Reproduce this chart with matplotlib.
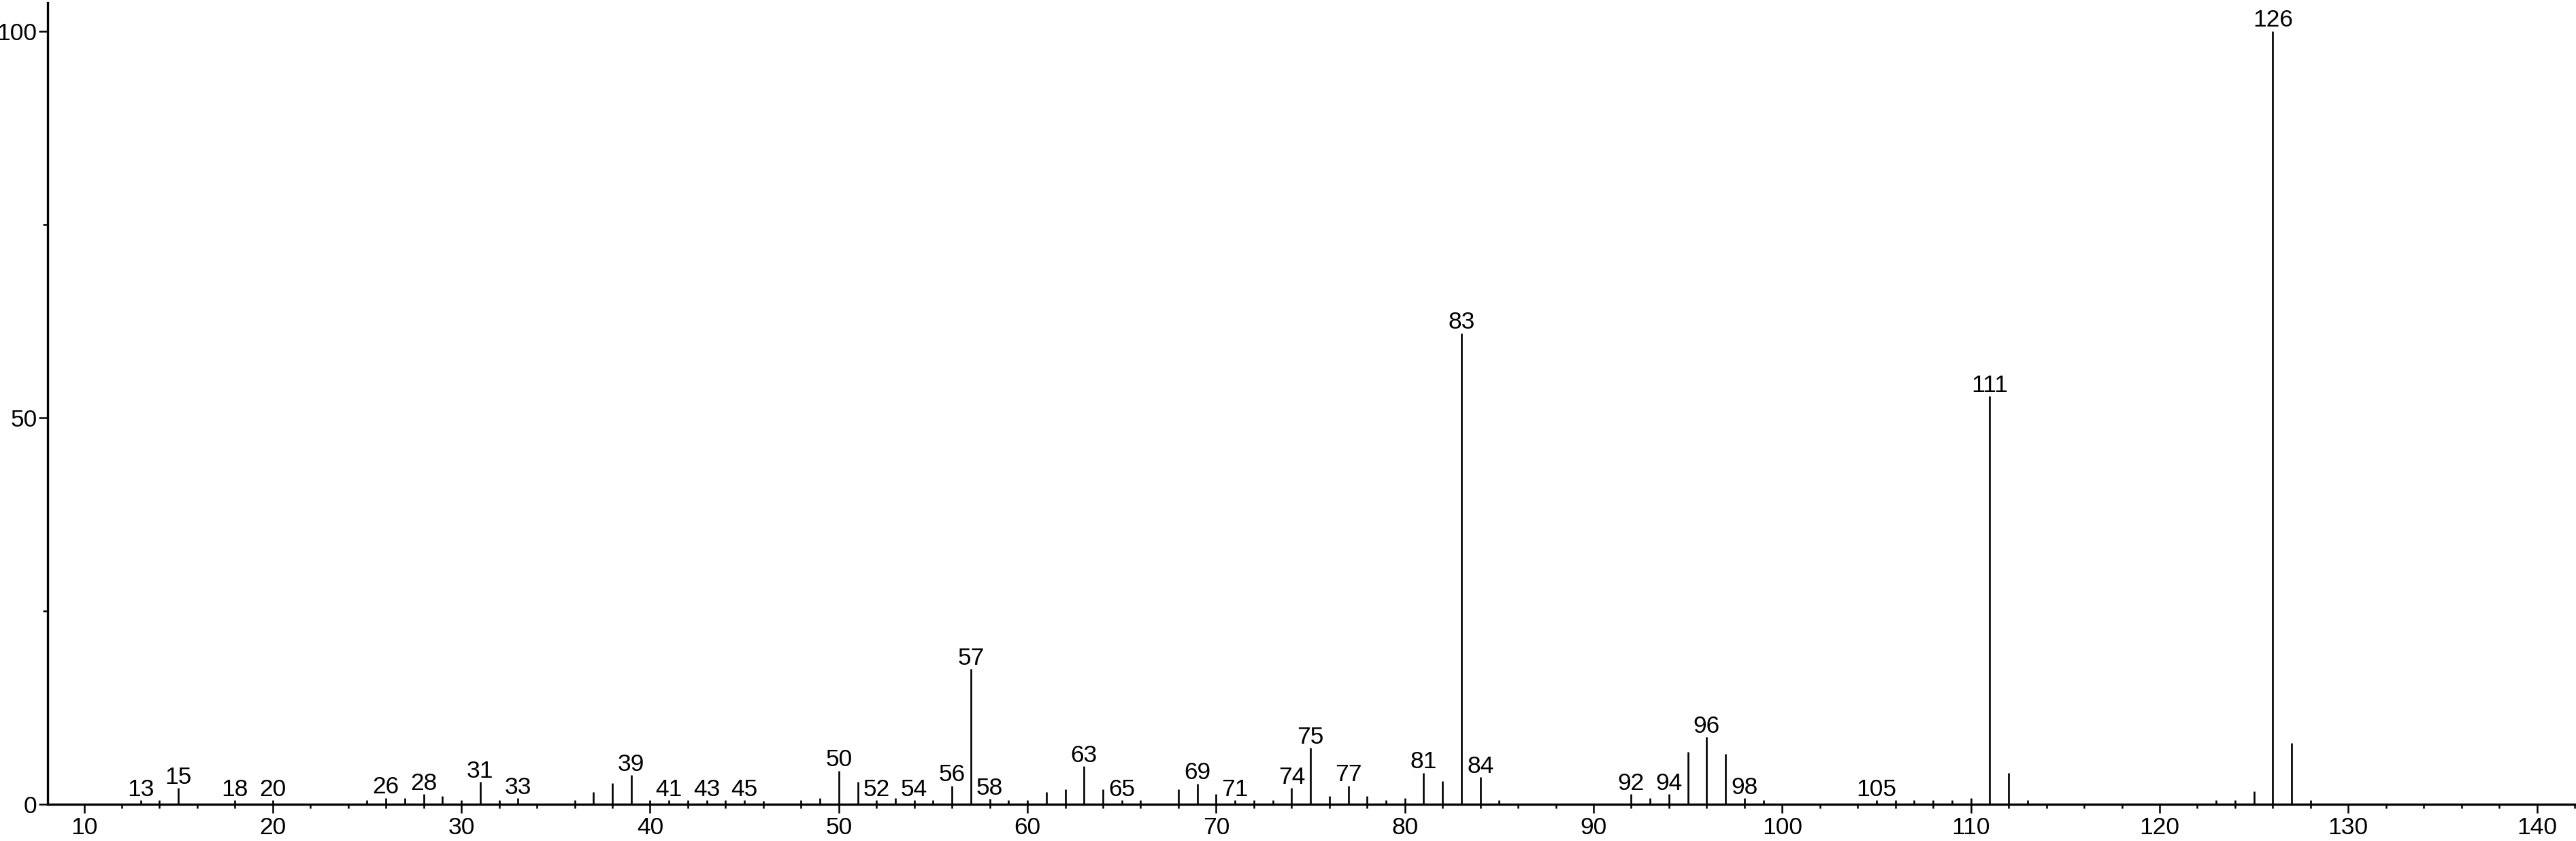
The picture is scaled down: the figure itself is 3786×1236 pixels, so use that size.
import matplotlib
matplotlib.use("Agg")
import matplotlib.pyplot as plt
from matplotlib import font_manager
from matplotlib.ticker import MultipleLocator, FixedLocator

# m/z values and relative intensities (%)
mz = [13, 14, 15, 18, 20, 25, 26, 27, 28, 29, 30, 31, 32, 33, 36, 37, 38, 39,
      40, 41, 42, 43, 44, 45, 46, 48, 49, 50, 51, 52, 53, 54, 55, 56, 57, 58,
      59, 60, 61, 62, 63, 64, 65, 66, 68, 69, 70, 71, 72, 73, 74, 75, 76, 77,
      78, 79, 80, 81, 82, 83, 84, 85, 92, 93, 94, 95, 96, 97, 98, 99, 105,
      106, 107, 108, 109, 110, 111, 112, 113, 123, 124, 125, 126, 127, 128]
intensity = [0.5, 0.5, 2.1, 0.5, 0.5, 0.5, 0.8, 0.8, 1.3, 1.05, 0.5, 2.9, 0.5,
             0.75, 0.5, 1.6, 2.7, 3.75, 0.5, 0.5, 0.5, 0.5, 0.5, 0.5, 0.4, 0.5,
             0.75, 4.35, 2.9, 0.5, 0.75, 0.5, 0.5, 2.4, 17.5, 0.7, 0.5, 0.5,
             1.6, 1.9, 4.9, 1.9, 0.5, 0.5, 1.9, 2.65, 1.3, 0.5, 0.5, 0.5, 2.1,
             7.3, 1.05, 2.4, 1.05, 0.5, 0.75, 4.05, 3.0, 60.9, 3.5, 0.5, 1.3,
             0.75, 1.3, 6.8, 8.7, 6.5, 0.75, 0.5, 0.5, 0.5, 0.5, 0.5, 0.5, 0.75,
             52.8, 4.05, 0.5, 0.5, 0.5, 1.65, 100.0, 7.95, 0.5]
labeled = [13, 15, 18, 20, 26, 28, 31, 33, 39, 41, 43, 45, 50, 52, 54, 56, 57,
           58, 63, 65, 69, 71, 74, 75, 77, 81, 83, 84, 92, 94, 96, 98, 105,
           111, 126]
x_major = [10, 20, 30, 40, 50, 60, 70, 80, 90, 100, 110, 120, 130, 140]
y_major = [0, 50, 100]
y_minor = [25, 75]

names = {f.name for f in font_manager.fontManager.ttflist}
if "Liberation Sans Narrow" in names:
    FONT = ["Liberation Sans Narrow", "DejaVu Sans"]
    FS = 27
else:
    FONT = ["Liberation Sans", "DejaVu Sans"]
    FS = 25.5
plt.rcParams["font.family"] = FONT

W, H = 3786, 1236
fig = plt.figure(figsize=(W / 100, H / 100), dpi=100)
fig.patch.set_facecolor("white")
ax = fig.add_axes([70 / W, 54 / H, 1 - 70 / W, (1182 - 4) / H])

ax.vlines(mz, 0, intensity, colors="black", linewidth=1.9)

lookup = dict(zip(mz, intensity))
for m in labeled:
    ax.annotate(str(m), (m, lookup[m]), xytext=(0, 4.7),
                textcoords="offset points", ha="center", va="baseline",
                fontsize=FS, color="black")

ax.set_xlim(8.07, 142.07)
ax.set_ylim(0, 103.67)

ax.xaxis.set_major_locator(FixedLocator(x_major))
ax.xaxis.set_minor_locator(MultipleLocator(2))
ax.yaxis.set_major_locator(FixedLocator(y_major))
ax.yaxis.set_minor_locator(FixedLocator(y_minor))
ax.set_xticklabels([str(v) for v in x_major])
ax.set_yticklabels([str(v) for v in y_major])

ax.tick_params(axis="x", which="major", direction="out", length=9, width=1.8,
               labelsize=FS, pad=4)
ax.tick_params(axis="x", which="minor", direction="out", length=4.5, width=1.8)
ax.tick_params(axis="y", which="major", direction="out", length=9.5, width=1.8,
               labelsize=FS, pad=1.5)
ax.tick_params(axis="y", which="minor", direction="out", length=5, width=1.8)

for s in ("top", "right"):
    ax.spines[s].set_visible(False)
for s in ("left", "bottom"):
    ax.spines[s].set_linewidth(2.4)
ax.set_facecolor("white")

fig.savefig("out.png", dpi=100, facecolor="white")
